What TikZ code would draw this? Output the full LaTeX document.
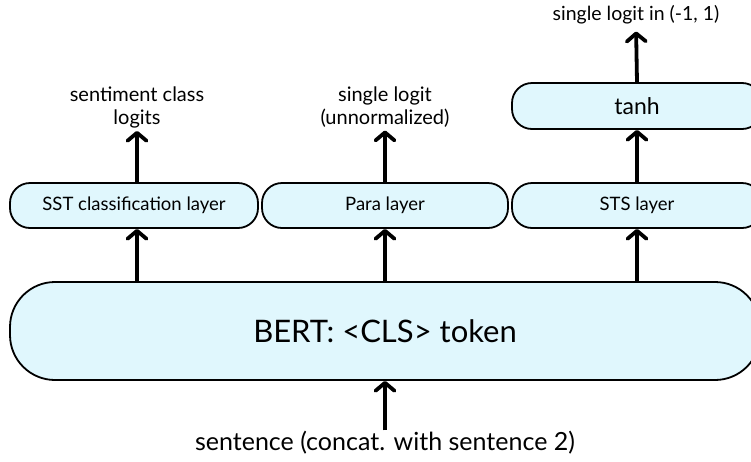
\documentclass[tikz,border=0pt]{standalone}
\usepackage{fontspec}
\setmainfont{Lato}
\usetikzlibrary{arrows.meta}
\definecolor{boxfill}{RGB}{224,247,253}
\tikzset{
  box/.style={draw=black, fill=boxfill, line width=1.8pt, rounded corners=20pt, inner sep=0pt},
  arr/.style={line width=3.8pt, -{Straight Barb[length=8pt,width=19pt,line width=3.8pt,round]}, line cap=butt},
  lbl/.style={align=center, inner sep=1pt, font=\fontsize{20}{23}\selectfont},
  layertext/.style={font=\fontsize{18.5}{22}\selectfont}
}
\begin{document}
\begin{tikzpicture}[x=1pt,y=1pt]
\clip (0,0) rectangle (751,-461);
\fill[white] (0,0) rectangle (751,-461);
\node[box, rounded corners=45pt, minimum width=750pt, minimum height=98pt, font=\fontsize{31}{36}\selectfont] (bert) at (385,-331) {BERT: <CLS> token};
\node[box, layertext, minimum width=248pt, minimum height=45pt] (sst) at (134,-205.5) {SST classification layer};
\node[box, layertext, minimum width=246pt, minimum height=45pt] (para) at (385,-205.5) {Para layer};
\node[box, layertext, minimum width=250pt, minimum height=45pt] (sts) at (637,-205.5) {STS layer};
\node[box, minimum width=250pt, minimum height=46pt, font=\fontsize{23}{27}\selectfont] (tanh) at (637,-106) {tanh};
\node[lbl] (l1) at (137,-107) {sentiment class\\logits};
\node[lbl] (l2) at (385,-107) {single logit\\(unnormalized)};
\node[lbl, font=\fontsize{19.5}{23}\selectfont] (l3) at (636,-15) {single logit in (-1, 1)};
\node[lbl, font=\fontsize{25}{29}\selectfont] (sent) at (385,-443) {sentence (concat. with sentence 2)};
\draw[arr] (sent.north) -- (bert.south);
\draw[arr] (bert.north -| 137,0) -- (sst.south -| 137,0);
\draw[arr] (bert.north -| para) -- (para.south);
\draw[arr] (bert.north -| sts) -- (sts.south);
\draw[arr, shorten >=2pt] (sst.north -| 137,0) -- (l1.south -| 137,0);
\draw[arr, shorten >=2pt] (para.north) -- (l2.south);
\draw[arr] (sts.north) -- (tanh.south);
\draw[arr, shorten >=6pt] (tanh.north) -- (l3.south);
\end{tikzpicture}
\end{document}
